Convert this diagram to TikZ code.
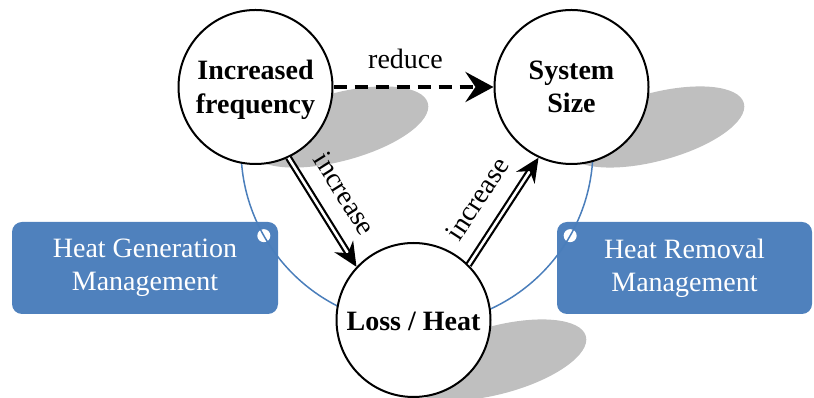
\documentclass[tikz,border=0pt]{standalone}
\usepackage{fontspec}
\setmainfont{Liberation Serif}
\usetikzlibrary{arrows.meta,calc}
\definecolor{boxblue}{HTML}{4F81BD}
\definecolor{arcblue}{HTML}{4A7EBB}
\definecolor{shadowgray}{HTML}{BFBFBF}
\begin{document}
\begin{tikzpicture}[x=1pt,y=1pt,
  bubble/.style={circle, draw=black, line width=2pt, fill=white, minimum size=154pt,
    inner sep=0pt},
  bubbletext/.style={align=center, inner sep=0pt, font=\fontsize{28}{33.5}\selectfont\bfseries},
  mgmt/.style={rounded corners=10pt, fill=boxblue, text=white, align=center,
    font=\fontsize{28}{33}\selectfont, minimum width=266pt, minimum height=92pt, inner sep=0pt},
  knob/.style={circle, fill=white, minimum size=13pt, inner sep=0pt},
  ringline/.style={draw=arcblue, line width=1.5pt},
  dblarrow/.style={double, line width=2.2pt, double distance=2.6pt,
    -{Stealth[length=24pt,width=22pt,inset=8pt]}},
  lbl/.style={font=\fontsize{28}{32}\selectfont}]
\useasboundingbox (0,0) rectangle (814,398);
% centres
\coordinate (p1) at (255.5,311);
\coordinate (p2) at (571.5,311);
\coordinate (p3) at (413.5,78);
\coordinate (ring) at (417,249);
% shadows
\foreach \p in {p1,p2,p3}{
  \coordinate (s) at ($(\p)+(83.5,-40)$);
  \fill[shadowgray, rotate around={15:(s)}] (s) ellipse [x radius=92pt, y radius=34pt];
}
% management boxes
\node[mgmt] (gen) at (145,130) {Heat Generation\\Management};
\node[mgmt, minimum width=255pt] (rem) at (684.5,130) {Heat Removal\\Management};
\node[knob] (k1) at ($(ring)+(209.5:176pt)$) {};
\node[knob] (k2) at ($(ring)+(-29.5:176pt)$) {};
% ring arc
\draw[ringline] ($(ring)+(180:176pt)$) arc[start angle=180, end angle=360, radius=176pt];
% circles
\node[bubble] (c1) at (p1) {};
\node[bubble] (c2) at (p2) {};
\node[bubble] (c3) at (p3) {};
\node[bubbletext, yshift=-3pt] (t1) at (c1) {Increased\\frequency};
\node[bubbletext] (t2) at (c2) {System\\Size};
\node[bubbletext, yshift=-1pt] (t3) at (c3) {Loss / Heat};
% arrows
\draw[line width=4.5pt, dash pattern=on 13pt off 8pt,
  -{Stealth[length=28pt,width=30pt,inset=10pt]}] (c1.east) --
  node[lbl, pos=0.45, above=13pt] (rd) {reduce} (c2.west);
\draw[dblarrow] (c1.-65) -- node[lbl, sloped, above=15pt, pos=0.47] (inc1) {increase} (c3.137);
\draw[dblarrow] (c3.45) -- node[lbl, sloped, above=15pt, pos=0.47] (inc2) {increase} (c2.245);
\end{tikzpicture}
\end{document}
